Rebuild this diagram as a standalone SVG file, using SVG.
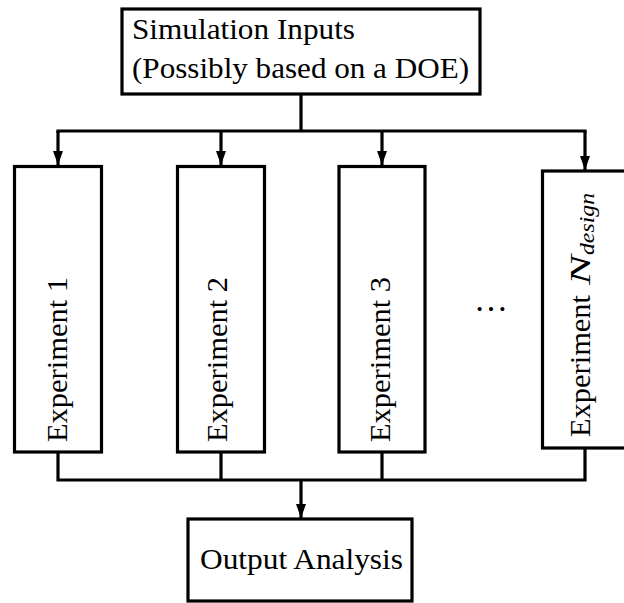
<svg xmlns="http://www.w3.org/2000/svg" width="624" height="603" viewBox="0 0 624 603">
  <style>
    .box { fill: #ffffff; stroke: #000000; stroke-width: 3.2; }
    .lbl { font-size: 30px; fill: #000000; }
    .wire { fill: none; stroke: #000000; stroke-width: 3.2; stroke-linejoin: miter; }
    .arrow { fill: none; stroke: #000000; stroke-width: 3.2; marker-end: url(#head); }
  </style>
  <defs>
    <marker id="head" markerUnits="userSpaceOnUse" markerWidth="12" markerHeight="14" viewBox="0 0 12 14" refX="6" refY="14" orient="0">
      <path d="M1 0 L11 0 L6 14 Z" fill="#000000"/>
    </marker>
  </defs>

  <rect width="624" height="603" fill="#ffffff"/>

  <!-- connectors -->
  <g id="connectors">
    <path class="wire" d="M301 94 V131"/>
    <path class="wire" d="M58 133 V131 H585 V133"/>
    <path class="arrow" d="M58 131 V165"/>
    <path class="arrow" d="M221 131 V165"/>
    <path class="arrow" d="M382 131 V165"/>
    <path class="arrow" d="M585 131 V170"/>
    <path class="wire" d="M58 452 V480 H585 V448"/>
    <path class="wire" d="M221 452 V480"/>
    <path class="wire" d="M382 452 V480"/>
    <path class="arrow" d="M301 480 V518"/>
  </g>

  <g font-family="Liberation Serif, DejaVu Serif, serif">
  <!-- simulation inputs -->
  <g id="inputs">
    <rect class="box" x="122" y="9" width="358" height="85"/>
    <text class="lbl" x="132" y="39" textLength="223" lengthAdjust="spacingAndGlyphs">Simulation Inputs</text>
    <text class="lbl" x="132" y="78" textLength="337" lengthAdjust="spacingAndGlyphs">(Possibly based on a DOE)</text>
  </g>

  <!-- experiments -->
  <g id="experiment-1">
    <rect class="box" x="14.5" y="166.5" width="87" height="285.5"/>
    <text class="lbl" transform="translate(67 442) rotate(-90)" textLength="165" lengthAdjust="spacingAndGlyphs">Experiment 1</text>
  </g>
  <g id="experiment-2">
    <rect class="box" x="177.5" y="166.5" width="87" height="285.5"/>
    <text class="lbl" transform="translate(227 442) rotate(-90)" textLength="165" lengthAdjust="spacingAndGlyphs">Experiment 2</text>
  </g>
  <g id="experiment-3">
    <rect class="box" x="339" y="166.5" width="86" height="285.5"/>
    <text class="lbl" transform="translate(390 442) rotate(-90)" textLength="165" lengthAdjust="spacingAndGlyphs">Experiment 3</text>
  </g>

  <g id="ellipsis">
    <text class="lbl" x="474" y="311" style="font-size:34px">…</text>
  </g>

  <g id="experiment-n">
    <rect class="box" x="542.5" y="171" width="90" height="277"/>
    <text class="lbl" transform="translate(590 437) rotate(-90)"><tspan x="0" textLength="142" lengthAdjust="spacingAndGlyphs">Experiment</tspan><tspan x="152" font-style="italic" textLength="30" lengthAdjust="spacingAndGlyphs">N</tspan><tspan x="182" dy="4" font-style="italic" font-size="21" textLength="62" lengthAdjust="spacingAndGlyphs">design</tspan></text>
  </g>

  <!-- output analysis -->
  <g id="output">
    <rect class="box" x="188" y="519" width="224" height="82"/>
    <text class="lbl" x="200" y="569" textLength="203" lengthAdjust="spacingAndGlyphs">Output Analysis</text>
  </g>
  </g>
</svg>
